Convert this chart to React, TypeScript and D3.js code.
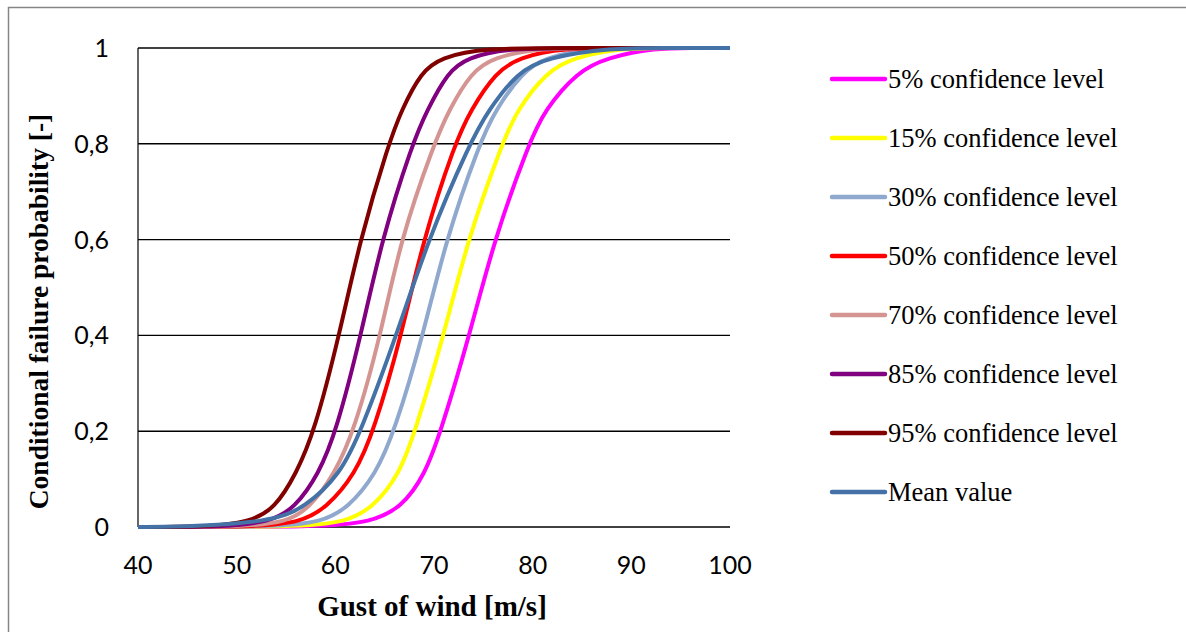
import React from 'react';
import * as d3 from 'd3';

const probLevels = [0, 0, 0.01, 0.04, 0.11, 0.2, 0.4, 0.6, 0.8, 0.87, 0.95, 0.98, 1, 1, 1];

// gust of wind [m/s] reached by each curve at the levels above
const conf5 = [40, 59, 63.5, 66.7, 69.1, 70.7, 73.6, 76.1, 79.6, 81.2, 84.5, 87.5, 92.5, 96, 100];
const conf15 = [40, 56.5, 61.0, 63.8, 66.5, 68.1, 71.0, 73.4, 76.9, 78.4, 81.4, 84.1, 89, 94, 100];
const conf30 = [40, 54, 58.6, 61.3, 64.1, 66.0, 68.9, 71.2, 74.6, 76.2, 79.0, 81.2, 86, 92, 100];
const conf50 = [40, 52, 56.5, 59.1, 62.0, 63.9, 66.7, 68.9, 72.1, 73.7, 76.3, 78.6, 83, 90, 100];
const conf70 = [40, 50.5, 55.1, 57.4, 59.9, 61.9, 64.6, 66.6, 70.0, 71.5, 73.8, 76.0, 80.5, 88, 100];
const conf85 = [40, 48.5, 53.4, 55.9, 58.3, 60.1, 62.6, 64.7, 67.8, 69.3, 71.4, 73.4, 77.5, 86, 100];
const conf95 = [40, 46.5, 51.4, 53.9, 56.0, 57.9, 60.4, 62.5, 65.4, 66.7, 68.7, 70.7, 75, 84, 100];
const meanValue = [40, 44, 53.4, 56.9, 60.5, 62.6, 66.2, 69.4, 73.6, 75.5, 78.5, 81.4, 88, 93, 100];

const seriesNames = [
  '5% confidence level',
  '15% confidence level',
  '30% confidence level',
  '50% confidence level',
  '70% confidence level',
  '85% confidence level',
  '95% confidence level',
  'Mean value',
];
const seriesData = [conf5, conf15, conf30, conf50, conf70, conf85, conf95, meanValue];
const seriesColors = ['#FF00FF', '#FFFF00', '#8FA8CE', '#FF0000', '#D49592', '#800080', '#800000', '#4472A6'];

const xTicks = [40, 50, 60, 70, 80, 90, 100];
const yTicks = [0, 0.2, 0.4, 0.6, 0.8, 1];
const yTickLabels = ['0', '0,2', '0,4', '0,6', '0,8', '1'];

const W = 1186;
const H = 632;
const plot = { left: 138, right: 730, top: 48, bottom: 527 };

export default function App() {
  const x = d3.scaleLinear().domain([40, 100]).range([plot.left, plot.right]);
  const y = d3.scaleLinear().domain([0, 1]).range([plot.bottom, plot.top]);

  // smooth line through the read-off points
  const line = d3
    .line<[number, number]>()
    .x((d) => x(d[0]))
    .y((d) => y(d[1]))
    .curve(d3.curveBasis);

  const tickFont = 'Lato, "Open Sans", sans-serif';
  const serif = '"Liberation Serif", "DejaVu Serif", serif';

  return (
    <svg
      width={W}
      height={H}
      style={{ position: 'absolute', left: 0, top: 0, background: '#fff' }}
    >
      {/* chart frame */}
      <rect x={8.5} y={7.5} width={1300} height={800} fill="#fff" stroke="#868686" strokeWidth={1.5} />

      {/* gridlines */}
      {yTicks.map((t) => (
        <line key={t} x1={plot.left} x2={plot.right} y1={y(t)} y2={y(t)} stroke="#000" strokeWidth={1.4} />
      ))}
      <line x1={plot.left} x2={plot.left} y1={plot.top} y2={plot.bottom} stroke="#000" strokeWidth={1.2} />

      {/* y tick labels */}
      {yTicks.map((t, i) => (
        <text
          key={t}
          x={109}
          y={y(t)}
          dy="0.36em"
          textAnchor="end"
          fontFamily={tickFont}
          fontSize={25}
          fill="#000"
        >
          {yTickLabels[i]}
        </text>
      ))}

      {/* x tick labels */}
      {xTicks.map((t) => (
        <text
          key={t}
          x={x(t)}
          y={574}
          textAnchor="middle"
          fontFamily={tickFont}
          fontSize={25}
          fill="#000"
        >
          {t}
        </text>
      ))}

      {/* curves */}
      {seriesData.map((xs, i) => (
        <path
          key={seriesNames[i]}
          d={line(xs.map((v, j) => [v, probLevels[j]] as [number, number])) || ''}
          fill="none"
          stroke={seriesColors[i]}
          strokeWidth={4}
          strokeLinejoin="round"
        />
      ))}

      {/* axis titles */}
      <text
        x={432}
        y={616}
        textAnchor="middle"
        fontFamily={serif}
        fontWeight="bold"
        fontSize={29}
        fill="#000"
      >
        Gust of wind [m/s]
      </text>
      <text
        transform={`translate(48,${(plot.top + plot.bottom) / 2 + 24}) rotate(-90)`}
        textAnchor="middle"
        fontFamily={serif}
        fontWeight="bold"
        fontSize={27.5}
        fill="#000"
      >
        Conditional failure probability [-]
      </text>

      {/* legend */}
      {seriesNames.map((name, i) => {
        const ly = 79 + i * 59;
        return (
          <g key={name}>
            <line x1={832} x2={885} y1={ly} y2={ly} stroke={seriesColors[i]} strokeWidth={4.5} strokeLinecap="round" />
            <text x={888} y={ly} dy="0.33em" fontFamily={serif} fontSize={26.5} fill="#000">
              {name}
            </text>
          </g>
        );
      })}
    </svg>
  );
}
